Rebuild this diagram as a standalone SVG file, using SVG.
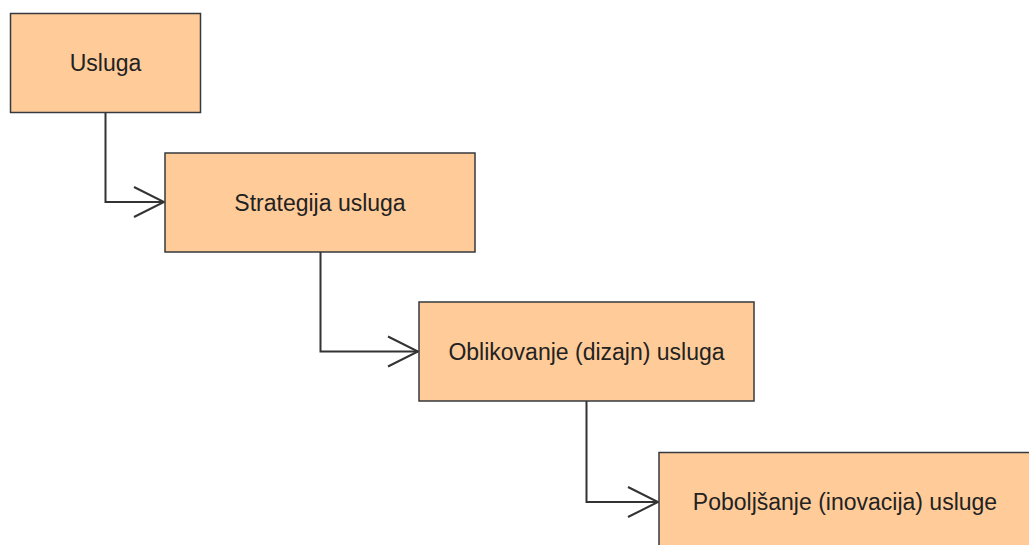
<svg xmlns="http://www.w3.org/2000/svg" width="1029" height="545" viewBox="0 0 1029 545">
<style>
.box{fill:#ffcc99;stroke:#36393d;stroke-width:1.5}
.lbl{font-family:"Liberation Sans",Arial,sans-serif;font-size:23px;fill:#222;text-anchor:middle;dominant-baseline:central}
.edge{fill:none;stroke:#333;stroke-width:2}
.head{fill:none;stroke:#333;stroke-width:2;stroke-linejoin:miter}
</style>
<rect width="1029" height="545" fill="#ffffff"/>
<g id="connectors">
<path class="edge" d="M105.5,112.5 V202 H164"/>
<path class="head" d="M134,187 L164,202 L134,217"/>
<path class="edge" d="M320.5,252 V351.5 H418"/>
<path class="head" d="M388,336.5 L418,351.5 L388,366.5"/>
<path class="edge" d="M586.5,401 V502 H658"/>
<path class="head" d="M628,487 L658,502 L628,517"/>
</g>
<g id="node-usluga">
<rect class="box" x="10.5" y="13.5" width="190" height="99"/>
<text class="lbl" x="105.5" y="63">Usluga</text>
</g>
<g id="node-strategija">
<rect class="box" x="165" y="153" width="310" height="99"/>
<text class="lbl" x="320" y="202.5">Strategija usluga</text>
</g>
<g id="node-oblikovanje">
<rect class="box" x="419" y="302" width="335" height="99"/>
<text class="lbl" x="586.5" y="352">Oblikovanje (dizajn) usluga</text>
</g>
<g id="node-poboljsanje">
<rect class="box" x="659" y="452.5" width="372" height="99"/>
<text class="lbl" x="845" y="502">Poboljšanje (inovacija) usluge</text>
</g>
</svg>
